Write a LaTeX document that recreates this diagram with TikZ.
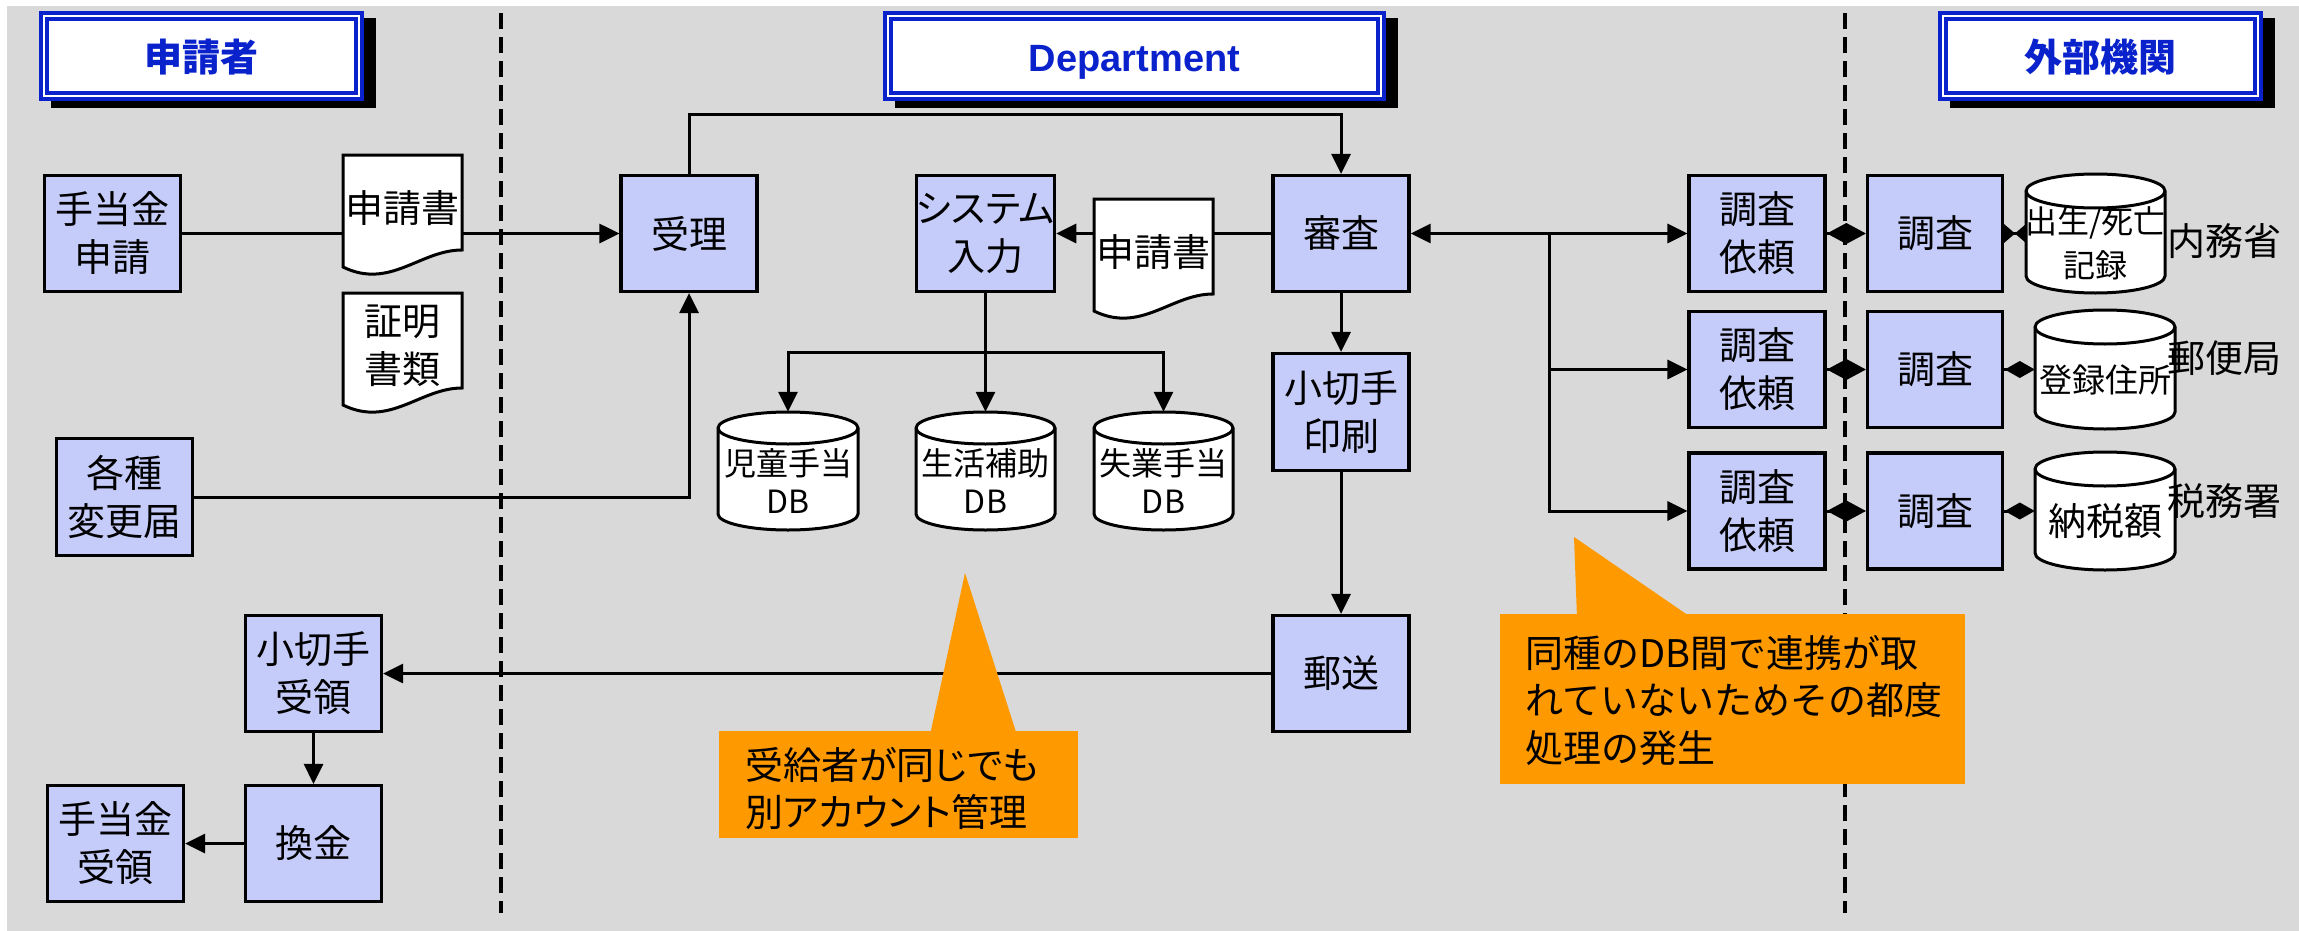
\documentclass[tikz,border=0pt]{standalone}
\usepackage{fontspec}
\newfontfamily\jp{Noto Sans CJK JP}
\newfontfamily\jpp[RawFeature=+palt]{Noto Sans CJK JP}
\newfontfamily\lib{Liberation Sans}
\usetikzlibrary{arrows.meta,calc}
\definecolor{bggray}{RGB}{217,217,217}
\definecolor{boxblue}{RGB}{198,204,250}
\definecolor{hdblue}{RGB}{10,34,204}
\definecolor{callor}{RGB}{255,153,0}
\tikzset{
  box/.style={draw=black, line width=3.2pt, fill=boxblue, minimum width=136pt, minimum height=116pt, inner sep=0pt, align=center, font=\jp\fontsize{38}{48}\selectfont},
  lbl/.style={inner sep=0pt, align=center, font=\jp\fontsize{38}{48}\selectfont},
  ln/.style={line width=3pt},
  arr/.style={ln, -{Triangle[length=20pt,width=19pt]}},
  darr/.style={ln, {Triangle[length=20pt,width=19pt]}-{Triangle[length=20pt,width=19pt]}},
  sepline/.style={line width=3.4pt, dash pattern=on 16pt off 8pt},
  hdtext/.style={inner sep=0pt, text=hdblue, font=\jp\bfseries\fontsize{38}{48}\selectfont},
  shapeout/.style={draw=black, line width=3pt, fill=white},
  callout/.style={fill=callor},
}
\newcommand{\mycyl}[8]{%
  \draw[shapeout] (#2,-#4-#6) -- (#2,-#5+#6) arc[start angle=180,end angle=360,x radius={(#3-#2)/2},y radius=#6] -- (#3,-#4-#6) arc[start angle=0,end angle=180,x radius={(#3-#2)/2},y radius=#6] -- cycle;
  \draw[line width=3pt] (#2,-#4-#6) arc[start angle=180,end angle=360,x radius={(#3-#2)/2},y radius=#6];
  \node[inner sep=0pt, minimum width={#3-#2}, minimum height={#5-#4}] (#1) at ({(#2+#3)/2},{-(#4+#5)/2}) {};
  \node[lbl, font=#7] (#1t) at ({(#2+#3)/2},{-(#4+#5)/2-10}) {#8};
}
\newcommand{\mydoc}[4]{%
  \draw[shapeout] (#2,-#3) -- (#2+119,-#3) -- (#2+119,-#3-95) .. controls (#2+77,-#3-95) and (#2+47,-#3-135) .. (#2,-#3-112) -- cycle;
  \node[lbl] (#1) at (#2+59.5,-#3-53) {#4};
}
\newcommand{\myhead}[5]{%
  \fill[black] (#2+12,-18) rectangle (#3+12,-108);
  \draw[hdblue, line width=3.6pt, fill=white] (#2+1.8,-12.8) rectangle (#3-1.8,-99.2);
  \draw[hdblue, line width=3.6pt] (#2+7.8,-18.8) rectangle (#3-7.8,-93.2);
  \node[hdtext] (#1) at ({(#2+#3)/2},-#4) {#5};
}
\begin{document}
\begin{tikzpicture}[x=1pt,y=1pt]
\useasboundingbox (0,0) rectangle (2299,-931);
\fill[bggray] (7,-6) rectangle (2299,-931);
% lane separators
\draw[sepline] (501,-13) -- (501,-913);
\draw[sepline] (1845,-13) -- (1845,-913);
% headers
\myhead{h1}{39}{364}{57}{申請者}
\myhead{h2}{883}{1386}{62}{{\lib\bfseries Department}}
\myhead{h3}{1938}{2263}{57}{外部機関}
% boxes
\node[box] (shinsei) at (112.5,-233.5) {手当金\\申請};
\node[box] (juri) at (689,-233.5) {受理};
\node[box, font=\jpp\fontsize{38}{48}\selectfont] (sys) at (985.5,-233.5) {システム\\入力};
\node[box] (shinsa) at (1341,-233.5) {審査};
\node[box, minimum height=117pt] (print) at (1341,-412) {小切手\\印刷};
\node[box] (yuso) at (1341,-673.5) {郵送};
\node[box, minimum height=117pt] (kakushu) at (124.5,-497) {各種\\変更届};
\node[box] (krecv) at (313.5,-673.5) {小切手\\受領};
\node[box] (kankin) at (313.5,-843.5) {換金};
\node[box] (trecv) at (115.5,-843.5) {手当金\\受領};
\node[box] (irai1) at (1757,-233.5) {調査\\依頼};
\node[box] (irai2) at (1757,-369.5) {調査\\依頼};
\node[box] (irai3) at (1757,-511) {調査\\依頼};
\node[box, minimum width=135pt] (chosa1) at (1935,-233.5) {調査};
\node[box, minimum width=135pt] (chosa2) at (1935,-369.5) {調査};
\node[box, minimum width=135pt] (chosa3) at (1935,-511) {調査};
% cylinders
\mycyl{db1}{718}{858}{412}{530}{16}{\jp\fontsize{32}{38}\selectfont}{児童手当\\DB}
\mycyl{db2}{916}{1055}{412}{530}{16}{\jp\fontsize{32}{38}\selectfont}{生活補助\\DB}
\mycyl{db3}{1094}{1233}{412}{530}{16}{\jp\fontsize{32}{38}\selectfont}{失業手当\\DB}
\mycyl{cyl1}{2026}{2165}{174}{293}{17}{\jp\fontsize{32}{44}\selectfont}{出生/死亡\\記録}
\mycyl{cyl2}{2035}{2175}{310}{429}{17}{\jp\fontsize{33}{40}\selectfont}{登録住所}
\mycyl{cyl3}{2035}{2175}{452}{570}{17}{\jp\fontsize{38}{44}\selectfont}{納税額}
% agency labels
\node[lbl, anchor=west] (naimu) at (2167,-241) {内務省};
\node[lbl, anchor=west] (yubin) at (2167,-358) {郵便局};
\node[lbl, anchor=west] (zeimu) at (2167,-501) {税務署};
% connectors
\coordinate (toprow) at (0,-115);
\coordinate (dbbus) at (0,-352);
\coordinate (fork) at (1549,-233.5);
\draw[arr] (shinsei.east) -- (juri.west);
\draw[arr] (kakushu.east) -| (juri.south);
\draw[arr] (juri.north) |- (toprow -| shinsa.north) -- (shinsa.north);
\draw[arr] (shinsa.west) -- (sys.east);
\draw[arr] (sys.south) -- (db2.north);
\draw[arr] (dbbus -| sys.south) -| (db1.north);
\draw[arr] (dbbus -| sys.south) -| (db3.north);
\draw[arr] (shinsa.south) -- (print.north);
\draw[arr] (print.south) -- (yuso.north);
\draw[arr] (yuso.west) -- (krecv.east);
\draw[arr] (krecv.south) -- (kankin.north);
\draw[arr] (kankin.west) -- (trecv.east);
\draw[darr] (shinsa.east) -- (irai1.west);
\draw[arr] (fork) |- (irai2.west);
\draw[arr] (fork) |- (irai3.west);
\draw[ln, -{Diamond[length=39pt,width=21pt]}] (irai1.east) -- (chosa1.west);
\draw[ln, -{Diamond[length=39pt,width=21pt]}] (irai2.east) -- (chosa2.west);
\draw[ln, -{Diamond[length=39pt,width=21pt]}] (irai3.east) -- (chosa3.west);
\draw[ln, {Triangle[reversed,length=11pt,width=18pt]}-{Triangle[reversed,length=11pt,width=18pt]}] (chosa1.east) -- (cyl1.west);
\draw[ln, -{Diamond[length=30pt,width=17pt]}] (chosa2.east) -- (cyl2.west);
\draw[ln, -{Diamond[length=30pt,width=17pt]}] (chosa3.east) -- (cyl3.west);
% documents
\mydoc{doc1}{343}{155}{申請書}
\mydoc{doc2}{343}{293}{証明\\書類}
\mydoc{doc3}{1094}{199}{申請書}
% callouts
\fill[callout] (719,-731) rectangle (1078,-838);
\fill[callout] (930,-735) -- (965,-573) -- (1017,-735) -- cycle;
\node[lbl, anchor=west, align=left, font=\jpp\fontsize{38}{47}\selectfont] (c1t) at (745,-788.5) {受給者が同じでも\\別アカウント管理};
\fill[callout] (1500,-614) rectangle (1965,-784);
\fill[callout] (1577,-618) -- (1574,-537) -- (1692,-618) -- cycle;
\node[lbl, anchor=west, align=left, font=\jp\fontsize{38}{47.5}\selectfont] (c2t) at (1525,-700.5) {同種のDB間で連携が取\\れていないためその都度\\処理の発生};
\end{tikzpicture}
\end{document}
